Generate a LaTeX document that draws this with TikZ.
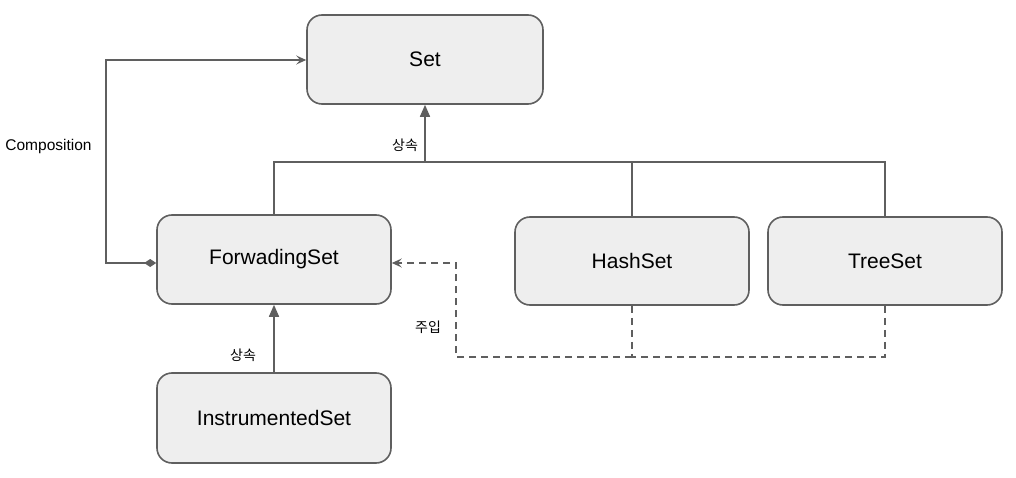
\documentclass[tikz,border=0pt]{standalone}
\usepackage{fontspec}
\setmainfont{Liberation Sans}
\newfontfamily\kor{Noto Sans CJK KR}
\usetikzlibrary{arrows.meta}
\definecolor{linec}{HTML}{5F5F5F}
\definecolor{boxfill}{HTML}{EEEEEE}
\begin{document}
\begin{tikzpicture}[x=1pt,y=-1pt,
  cls/.style={draw=linec, fill=boxfill, line width=1.6pt, rounded corners=15pt,
    minimum width=234pt, minimum height=89pt, font=\fontsize{21}{24}\selectfont},
  conn/.style={draw=linec, line width=1.6pt},
  inh/.style={conn, -{Triangle[length=12pt,width=10pt]}},
  dsh/.style={conn, dash pattern=on 7pt off 5pt},
  lbl/.style={font=\fontsize{14}{16}\selectfont\kor, text=black, inner sep=0pt},
  openarr/.tip={Stealth[length=10pt,width=9pt,inset=4pt]}
]
\useasboundingbox (0,0) rectangle (1016,478);
\node[cls, minimum width=236pt] (set) at (425,59.5) {Set};
\node[cls] (fwd) at (274,259.5) {ForwadingSet};
\node[cls, minimum height=88pt] (hash) at (632,261) {HashSet};
\node[cls, minimum height=88pt] (tree) at (885,261) {TreeSet};
\node[cls, minimum height=90pt] (inst) at (274,418) {InstrumentedSet};

\coordinate (j) at (425,162);
\draw[inh] (j) -- (set.south);
\draw[conn] (fwd.north) |- (j);
\draw[conn] (hash.north) |- (j);
\draw[conn] (tree.north) |- (j);
\node[lbl] (l1) at (405,145) {상속};

\draw[inh] (inst.north) -- (fwd.south);
\node[lbl] (l2) at (243,355) {상속};

\coordinate (c1) at (106,263);
\coordinate (c2) at (106,60);
\draw[conn, {Diamond[length=12pt,width=8pt]}-{openarr}] (fwd.west |- c1) -- (c1) -- (c2) -- (set.west |- c2);
\node[font=\fontsize{15.5}{17}\selectfont, inner sep=0pt] (comp) at (48.5,146) {Composition};

\coordinate (d1) at (632,357);
\coordinate (d2) at (885,357);
\coordinate (d3) at (456,357);
\coordinate (d4) at (456,263);
\draw[dsh, line width=1.3pt] (hash.south) -- (d1);
\draw[dsh, line width=1.3pt] (tree.south) -- (d2) -- (d1);
\draw[dsh, line width=2pt, -{openarr}] (d1) -- (d3) -- (d4) -- (fwd.east |- d4);
\node[lbl] (l3) at (428,327) {주입};
\end{tikzpicture}
\end{document}
